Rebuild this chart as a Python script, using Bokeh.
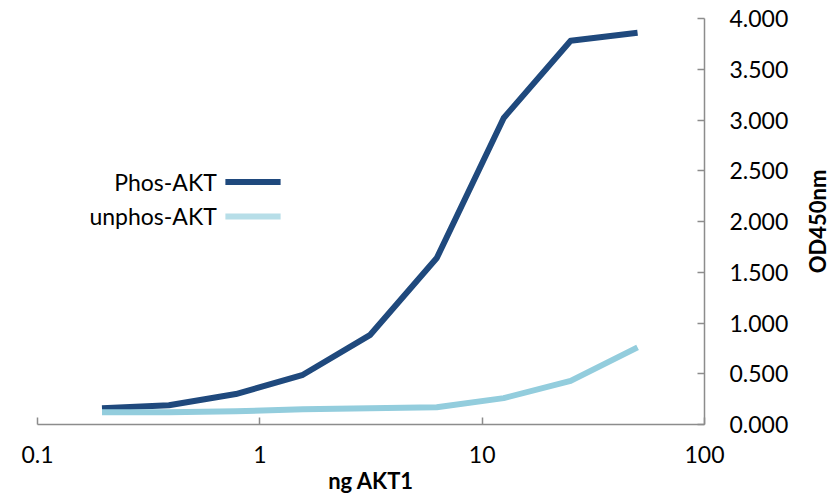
import math
from bokeh.plotting import figure
from bokeh.layouts import row
from bokeh.models import Range1d, FixedTicker, NumeralTickFormatter, Label
from bokeh.embed import file_html
from bokeh.resources import INLINE

# ---- data ----
ng_akt1 = [0.195, 0.39, 0.78, 1.5625, 3.125, 6.25, 12.5, 25, 50]
phos_akt = [0.16, 0.19, 0.30, 0.49, 0.88, 1.64, 3.02, 3.78, 3.86]
unphos_akt = [0.12, 0.12, 0.13, 0.15, 0.16, 0.17, 0.26, 0.43, 0.76]
x_ticks = [0.1, 1, 10, 100]
x_tick_labels = ["0.1", "1", "10", "100"]
y_ticks = [0, 0.5, 1, 1.5, 2, 2.5, 3, 3.5, 4]
series_names = ["Phos-AKT", "unphos-AKT"]
x_title = "ng AKT1"
y_title = "OD450nm"

DARK = "#1F497D"
LIGHT = "#93CDDD"
FONT = "Lato"
AXIS_COLOR = "#8C8C8C"

p = figure(x_axis_type="log", y_axis_location="right",
           frame_width=667, frame_height=406,
           min_border_left=37, min_border_top=18, min_border_right=96, min_border_bottom=10,
           output_backend="svg", toolbar_location=None,
           x_range=Range1d(0.1, 100), y_range=Range1d(0, 4))
p.outline_line_color = None
p.grid.visible = False
p.background_fill_color = "white"

p.line(ng_akt1, phos_akt, line_color=DARK, line_width=6, line_join="round")
p.line(ng_akt1, unphos_akt, line_color=LIGHT, line_width=6, line_join="round")

# manual legend (labels to the left of swatches)
leg_text_x = 0.64
leg_sw = [0.70, 1.24]
leg_y = [2.39, 2.05]
for name, col, yy in zip(series_names, [DARK, "#B7DEE8"], leg_y):
    p.line(leg_sw, [yy, yy], line_color=col, line_width=6)
    p.add_layout(Label(x=leg_text_x, y=yy, text=name, text_align="right",
                       text_baseline="middle", text_font=FONT, text_font_size="23px",
                       text_color="#000000"))

xa = p.xaxis[0]
xa.ticker = FixedTicker(ticks=x_ticks, minor_ticks=[])
xa.major_label_overrides = {t: l for t, l in zip(x_ticks, x_tick_labels)}
xa.axis_label = x_title
ya = p.yaxis[0]
ya.ticker = FixedTicker(ticks=y_ticks, minor_ticks=[])
ya.formatter = NumeralTickFormatter(format="0.000")

for ax in (xa, ya):
    ax.axis_line_color = AXIS_COLOR
    ax.axis_line_width = 1.5
    ax.major_tick_line_color = AXIS_COLOR
    ax.major_tick_line_width = 1.5
    ax.major_tick_in = 7
    ax.major_tick_out = 0
    ax.minor_tick_line_color = None
    ax.major_label_text_font = FONT
    ax.major_label_text_font_size = "23px"
    ax.major_label_text_color = "#000000"
    ax.axis_label_text_font = FONT
    ax.axis_label_text_font_size = "22px"
    ax.axis_label_text_font_style = "bold"
    ax.axis_label_text_color = "#000000"

xa.major_label_standoff = 21
xa.axis_label_standoff = 1
ya.major_label_standoff = 25

# narrow side panel holding the y-axis title, reading bottom-to-top
p2 = figure(frame_width=34, frame_height=406, min_border_left=0, min_border_right=0,
            min_border_top=18, min_border_bottom=0,
            output_backend="svg", toolbar_location=None,
            x_range=Range1d(0, 1), y_range=Range1d(0, 4))
p2.outline_line_color = None
p2.axis.visible = False
p2.grid.visible = False
p2.add_layout(Label(x=0.5, y=2.0, text=y_title, angle=math.pi / 2,
                    text_align="center", text_baseline="middle",
                    text_font=FONT, text_font_size="22px", text_font_style="bold",
                    text_color="#000000"))

layout = row(p, p2)
open("out.html", "w").write(file_html(layout, INLINE))
